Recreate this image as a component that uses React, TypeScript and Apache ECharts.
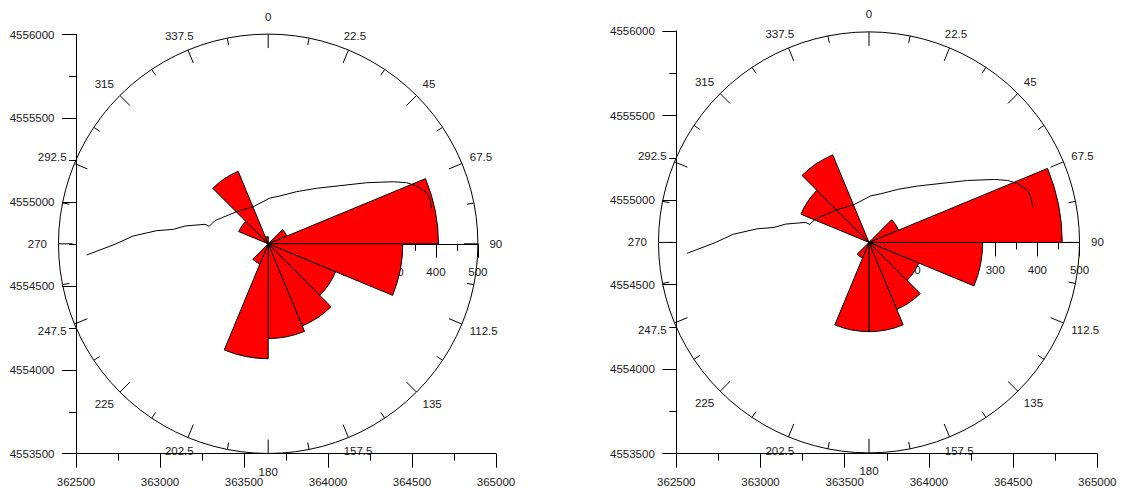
import React, { useEffect, useRef } from "react";
import * as echarts from "echarts";

const FONT = "Liberation Sans";
const sectorStarts = [0, 22.5, 45, 67.5, 90, 112.5, 135, 157.5, 180, 202.5, 225, 247.5, 270, 292.5, 315, 337.5];
const leftRose = [0, 0, 48, 406, 321, 174, 212, 226, 274, 52, 0, 0, 0, 76, 187, 17];
const rightRose = [0, 0, 76, 459, 270, 128, 172, 212, 212, 40, 0, 0, 0, 175, 225, 0];
const coastX = [362564, 362732, 362839, 362980, 363079, 363149, 363268, 363293, 363327, 363456, 363555, 363655, 363714, 363814, 363933, 364230, 364389, 364468, 364528, 364587, 364607, 364617];
const coastY = [4554685, 4554749, 4554798, 4554830, 4554838, 4554858, 4554868, 4554856, 4554890, 4554943, 4554973, 4555025, 4555037, 4555063, 4555083, 4555116, 4555122, 4555116, 4555097, 4555057, 4555013, 4554959];

const panels = [
  { rose: leftRose, left: 76, right: 496, top: 34.5, bottom: 453.7, cx: 268.2, cy: 243.8, r: 209.7 },
  { rose: rightRose, left: 676.3, right: 1097.3, top: 31, bottom: 453.7, cx: 869, cy: 242.4, r: 210.5 },
];

const text = { fontFamily: FONT, fontSize: 11.5, color: "#1a1a1a" };
const line = { color: "#000", width: 1 };
const plain = (v: number) => String(v);

const angleStyle: Record<string, string> = {
  "0": "top", "90": "side", "180": "bot", "270": "left",
  "22.5": "nearR", "157.5": "nearR", "337.5": "nearL", "202.5": "nearL",
  "67.5": "low", "292.5": "low", "112.5": "high", "247.5": "high",
};
function angleLabel(v: number) {
  const s = String(v);
  const k = angleStyle[s];
  return k ? `{${k}|${s}}` : s;
}

function buildOption() {
  const grid: any[] = [], xAxis: any[] = [], yAxis: any[] = [], polar: any[] = [], angleAxis: any[] = [], radiusAxis: any[] = [], series: any[] = [];
  panels.forEach((p, i) => {
    grid.push({ left: p.left, top: p.top, width: p.right - p.left, height: p.bottom - p.top, containLabel: false });
    xAxis.push({
      gridIndex: i, type: "value", min: 362500, max: 365000, interval: 500, splitLine: { show: false },
      axisLine: { show: true, onZero: false, lineStyle: line },
      axisTick: { show: true, length: 14, lineStyle: line },
      minorTick: { show: true, splitNumber: 2, length: 7, lineStyle: line },
      axisLabel: { ...text, margin: 22, formatter: plain, hideOverlap: false, showMinLabel: true, showMaxLabel: true },
    });
    yAxis.push({
      gridIndex: i, type: "value", min: 4553500, max: 4556000, interval: 500, splitLine: { show: false },
      axisLine: { show: true, onZero: false, lineStyle: line },
      axisTick: { show: true, length: 14, lineStyle: line },
      minorTick: { show: true, splitNumber: 2, length: 7, lineStyle: line },
      axisLabel: { ...text, margin: 21.5, formatter: plain, hideOverlap: false, showMinLabel: true, showMaxLabel: true },
    });
    // polar 2i: compass circle and the rose; polar 2i+1: the horizontal radius scale
    polar.push({ center: [p.cx, p.cy], radius: p.r });
    polar.push({ center: [p.cx, p.cy], radius: p.r });
    angleAxis.push({
      polarIndex: 2 * i, type: "value", min: 0, max: 360, interval: 22.5, startAngle: 90, clockwise: true,
      splitLine: { show: false },
      axisLine: { show: true, lineStyle: line },
      axisTick: { show: true, inside: true, length: 14, lineStyle: line },
      minorTick: { show: true, splitNumber: 2, length: 7, lineStyle: line },
      axisLabel: {
        ...text, margin: 8.5, hideOverlap: false, formatter: angleLabel,
        rich: {
          top: { ...text, padding: [0, 0, 3, 0] },
          side: { ...text, padding: [0, 0, 0, 3] },
          bot: { ...text, padding: [4, 0, 0, 0] },
          left: { ...text, padding: [0, 3, 0, 0] },
          nearR: { ...text, padding: [0, 0, 0, -8] },
          nearL: { ...text, padding: [0, -9, 0, 0] },
          low: { ...text, padding: [0, 0, -3, 0] },
          high: { ...text, padding: [-2, 0, 0, 0] },
        },
      },
    });
    angleAxis.push({
      polarIndex: 2 * i + 1, type: "value", min: 0, max: 360, startAngle: 0, clockwise: true,
      axisLine: { show: false }, axisTick: { show: false }, axisLabel: { show: false }, splitLine: { show: false },
    });
    radiusAxis.push({ polarIndex: 2 * i, type: "value", min: 0, max: 500, show: false, axisLine: { show: false }, axisTick: { show: false }, axisLabel: { show: false }, splitLine: { show: false } });
    radiusAxis.push({
      polarIndex: 2 * i + 1, type: "value", min: 0, max: 500, interval: 100, splitLine: { show: false },
      axisLine: { show: true, lineStyle: line },
      axisTick: { show: true, length: -14, lineStyle: line },
      minorTick: { show: true, splitNumber: 2, length: -7, lineStyle: line },
      axisLabel: { ...text, margin: -22, formatter: plain, hideOverlap: false, showMinLabel: true, showMaxLabel: true, align: "center", verticalAlign: "top" },
    });
    series.push({
      type: "custom", coordinateSystem: "polar", polarIndex: 2 * i, z: 5, clip: false, silent: true,
      data: p.rose.map((v, k) => [v, sectorStarts[k]]),
      renderItem: (params: any, api: any) => {
        const v = api.value(0), start = api.value(1);
        if (!v) return null;
        const sys = params.coordSys;
        const pt = api.coord([v, start]);
        const r = Math.hypot(pt[0] - sys.cx, pt[1] - sys.cy);
        return {
          type: "sector",
          shape: { cx: sys.cx, cy: sys.cy, r0: 0, r, startAngle: ((start - 90) * Math.PI) / 180, endAngle: ((start + 22.5 - 90) * Math.PI) / 180, clockwise: true },
          style: { fill: "#ff0000", stroke: "#000", lineWidth: 1 },
        };
      },
    });
    series.push({
      type: "line", xAxisIndex: i, yAxisIndex: i, z: 6, symbol: "none", silent: true, smooth: false,
      data: coastX.map((x, k) => [x, coastY[k]]), lineStyle: { color: "#000", width: 1 },
    });
  });
  return { animation: false, backgroundColor: "#fff", grid, xAxis, yAxis, polar, angleAxis, radiusAxis, series };
}

export default function App() {
  const ref = useRef<HTMLDivElement>(null);
  useEffect(() => {
    const chart = echarts.init(ref.current!, undefined, { renderer: "svg" });
    chart.setOption(buildOption() as any);
    return () => chart.dispose();
  }, []);
  return <div ref={ref} style={{ position: "absolute", left: 0, top: 0, width: 1124, height: 490 }} />;
}
